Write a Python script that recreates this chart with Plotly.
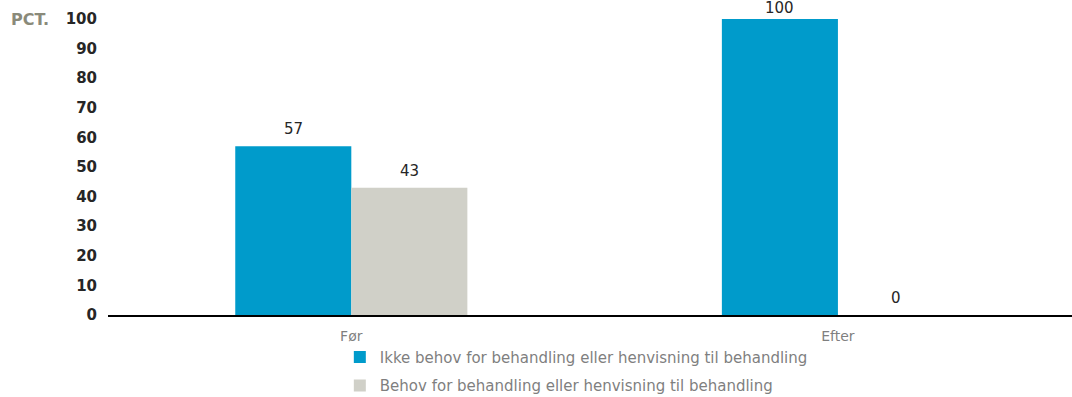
import plotly.graph_objects as go

categories = ["Før", "Efter"]
series_names = ["Ikke behov for behandling eller henvisning til behandling",
                "Behov for behandling eller henvisning til behandling"]
ikke_behov = [57, 100]
behov = [43, 0]
y_ticks = [0, 10, 20, 30, 40, 50, 60, 70, 80, 90, 100]

colors = ["#009BCB", "#D0D0C8"]
font_family = "DejaVu Sans, Verdana, sans-serif"
bar_half_px = 58  # half bar width in pixels, for label offsets

fig = go.Figure()
annotations = []
for i, (name, vals, col) in enumerate(zip(series_names, [ikke_behov, behov], colors)):
    fig.add_trace(go.Bar(
        x=categories, y=vals, name=name, legendgroup=f"g{i}",
        marker=dict(color=col, line=dict(width=0)),
        cliponaxis=False,
    ))
    shift = -bar_half_px if i == 0 else bar_half_px
    for c, v in zip(categories, vals):
        annotations.append(dict(x=c, y=v, xref="x", yref="y", text=str(v),
                                showarrow=False, xshift=shift,
                                yshift=6 if v < 95 else 0,
                                yanchor="bottom",
                                font=dict(family=font_family, size=15, color="#262626")))

annotations.append(dict(text="<b>PCT.</b>", xref="paper", yref="paper", x=-0.059, y=1.0,
                        xanchor="right", yanchor="middle", showarrow=False,
                        font=dict(family=font_family, size=16, color="#8a8a7a")))

fig.update_layout(
    width=1072, height=397,
    margin=dict(l=108, r=0, t=19, b=82, autoexpand=False),
    paper_bgcolor="white", plot_bgcolor="white",
    barmode="group", bargap=0.523, bargroupgap=0,
    font=dict(family=font_family),
    showlegend=True,
    legend=dict(orientation="v", xref="container", yref="container",
                x=0.317, xanchor="left", y=0.142, yanchor="top",
                font=dict(family=font_family, size=15, color="#7f7f7f"),
                itemwidth=30, tracegroupgap=6, bgcolor="rgba(0,0,0,0)"),
    xaxis=dict(range=[-0.5, 1.481], showgrid=False, showline=True, linecolor="black",
               linewidth=2, ticks="", ticklabelstandoff=7,
               tickfont=dict(family=font_family, size=14, color="#7f7f7f"),
               fixedrange=True),
    yaxis=dict(range=[0, 100], tickvals=y_ticks, showgrid=False, zeroline=False,
               showline=False, ticks="", ticklabelstandoff=10,
               tickfont=dict(family=font_family, size=15, color="#262626", weight="bold")),
    annotations=annotations,
)
fig.write_html("out.html")
